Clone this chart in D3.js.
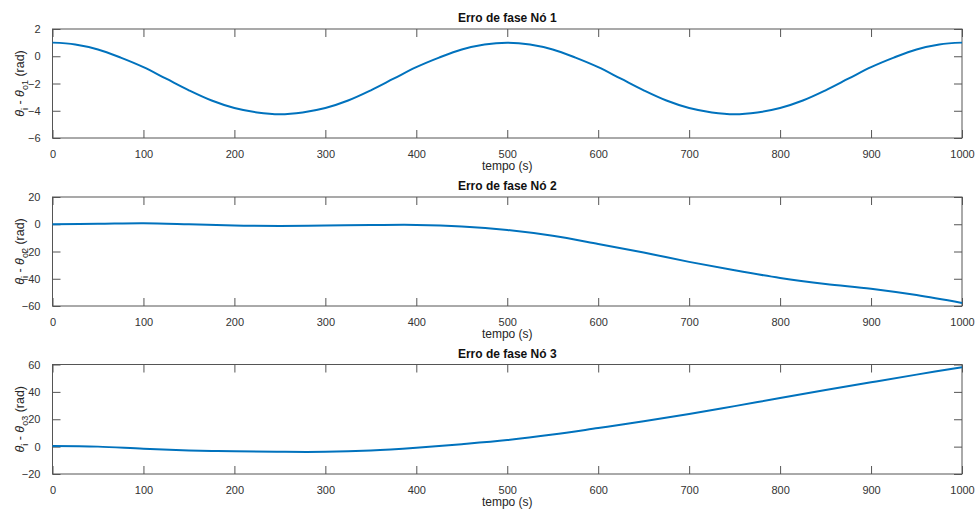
<!DOCTYPE html>
<html><head><meta charset="utf-8">
<script src="https://cdn.jsdelivr.net/npm/d3@7"></script>
<style>body{margin:0;background:#fff}svg{display:block}text{font-family:"Liberation Sans",Arial,sans-serif}</style>
</head><body><svg id="c" width="976" height="516"></svg>
<script>
const tempo1 = [0,25,50,75,100,125,150,175,200,225,250,275,300,325,350,375,400,425,450,475,500,525,550,575,600,625,650,675,700,725,750,775,800,825,850,875,900,925,950,975,1000];
const erro1 = [1.0,0.87,0.5,-0.1,-0.8,-1.65,-2.5,-3.25,-3.8,-4.12,-4.25,-4.12,-3.8,-3.25,-2.5,-1.65,-0.8,-0.1,0.5,0.87,1.0,0.87,0.5,-0.1,-0.8,-1.65,-2.5,-3.25,-3.8,-4.12,-4.25,-4.12,-3.8,-3.25,-2.5,-1.65,-0.8,-0.1,0.5,0.87,1.0];
const tempo23 = [0,50,100,150,200,250,300,350,400,450,500,550,600,650,700,750,800,850,900,950,1000];
const erro2 = [0,0.3,0.7,0,-0.9,-1.2,-0.9,-0.6,-0.5,-1.6,-4.2,-8.5,-14.5,-20.8,-27.6,-33.8,-39.4,-43.8,-47.3,-52,-57.8];
const erro3 = [0.5,0,-1.6,-2.8,-3.4,-3.8,-3.8,-2.8,-0.8,1.8,4.8,8.8,13.6,18.5,23.8,29.6,35.5,41.3,47,52.6,58];
const xTicks = [0,100,200,300,400,500,600,700,800,900,1000];
const titles = ["Erro de fase Nó 1","Erro de fase Nó 2","Erro de fase Nó 3"];
const subs = ["o1","o2","o3"];
const yDomains = [[-6,2],[-60,20],[-20,60]];
const yTicks = [[-6,-4,-2,0,2],[-60,-40,-20,0,20],[-20,0,20,40,60]];
const panels = [
  {x:tempo1, y:erro1, top:29, bottom:138},
  {x:tempo23, y:erro2, top:197, bottom:306},
  {x:tempo23, y:erro3, top:364.5, bottom:474}
];
const svg = d3.select("#c");
const left = 52.5, right = 962;
const tickCol="#555", labCol="#333";
const x = d3.scaleLinear().domain([0,1000]).range([left,right]);
const TL = 8;
panels.forEach((p,i)=>{
  const y = d3.scaleLinear().domain(yDomains[i]).range([p.bottom,p.top]);
  const g = svg.append("g");
  g.append("rect").attr("x",left).attr("y",p.top).attr("width",right-left).attr("height",p.bottom-p.top)
   .attr("fill","#fff").attr("stroke",tickCol).attr("stroke-width",1);
  const xb = d3.axisBottom(x).tickValues(xTicks).tickSize(-TL).tickPadding(TL+4).tickFormat(d3.format("d"));
  const xt = d3.axisTop(x).tickValues(xTicks).tickSize(-TL).tickFormat("");
  const yl = d3.axisLeft(y).tickValues(yTicks[i]).tickSize(-TL).tickPadding(TL+4).tickFormat(d3.format("d"));
  const yr = d3.axisRight(y).tickValues(yTicks[i]).tickSize(-TL).tickFormat("");
  [[xb,`translate(0,${p.bottom})`],[xt,`translate(0,${p.top})`],[yl,`translate(${left},0)`],[yr,`translate(${right},0)`]].forEach(([ax,tr])=>{
    const a = g.append("g").attr("transform",tr).call(ax);
    a.select(".domain").remove();
    a.selectAll("line").attr("stroke",tickCol);
    a.selectAll("text").attr("fill",labCol).style("font-size","11px").style("font-family","'Liberation Sans',Arial,sans-serif");
  });
  g.append("path").datum(p.x.map((t,k)=>[t,p.y[k]]))
   .attr("d",d3.line().x(d=>x(d[0])).y(d=>y(d[1])).curve(d3.curveCatmullRom.alpha(0.5)))
   .attr("fill","none").attr("stroke","#0072BD").attr("stroke-width",2);
  g.append("text").attr("x",(left+right)/2).attr("y",p.top-7).attr("text-anchor","middle")
   .style("font-size","12px").style("font-weight","bold").attr("fill","#111").text(titles[i]);
  g.append("text").attr("x",(left+right)/2).attr("y",p.bottom+32).attr("text-anchor","middle")
   .style("font-size","12px").attr("fill","#262626").text("tempo (s)");
  const yt = g.append("text").attr("transform",`translate(24,${(p.top+p.bottom)/2}) rotate(-90)`)
   .attr("text-anchor","middle").style("font-size","12.5px").attr("fill","#262626");
  yt.append("tspan").style("font-style","italic").text("θ");
  yt.append("tspan").attr("dy",4).style("font-size","9px").text("i");
  yt.append("tspan").attr("dy",-4).text(" - ");
  yt.append("tspan").style("font-style","italic").text("θ");
  yt.append("tspan").attr("dy",4).style("font-size","9px").text(subs[i]);
  yt.append("tspan").attr("dy",-4).text(" (rad)");
});
</script></body></html>
